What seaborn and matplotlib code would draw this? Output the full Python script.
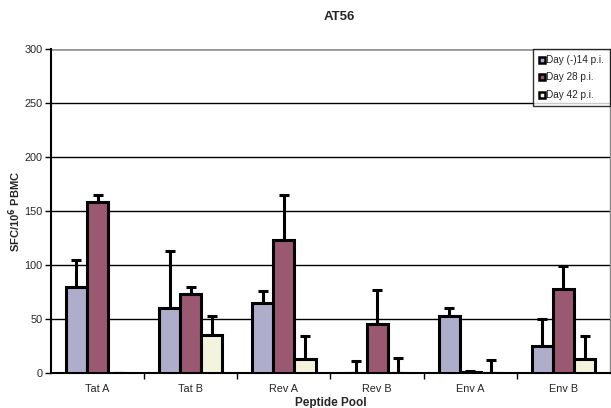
import matplotlib
matplotlib.use("Agg")
import matplotlib.pyplot as plt
import seaborn as sns
import pandas as pd
import numpy as np

pools = ["Tat A", "Tat B", "Rev A", "Rev B", "Env A", "Env B"]
days = ["Day (-)14 p.i.", "Day 28 p.i.", "Day 42 p.i."]
day_m14 = [80, 60, 65, 0, 53, 25]
day_28 = [158, 73, 123, 45, 1, 78]
day_42 = [0, 35, 13, 0, 0, 13]
err_m14 = [25, 53, 11, 11, 7, 25]
err_28 = [7, 7, 42, 32, 1, 21]
err_42 = [0, 18, 21, 14, 12, 21]
colors = ["#A9A9D1", "#A64D6E", "#F8F8D9"]

values = [day_m14, day_28, day_42]
errors = [err_m14, err_28, err_42]
df = pd.DataFrame({
    "pool": np.repeat([pools], 3, axis=0).ravel(),
    "day": np.repeat(days, len(pools)),
    "sfc": np.concatenate(values),
    "err": np.concatenate(errors),
})

sns.set_style("white")
plt.rcParams["font.family"] = ["Liberation Sans", "DejaVu Sans"]

fig = plt.figure(figsize=(6.11, 4.08), dpi=100)
ax = fig.add_axes([51 / 611, 1 - 373 / 408, 559 / 611, 324 / 408])

sns.barplot(data=df, x="pool", y="sfc", hue="day", order=pools, hue_order=days,
            palette=colors, width=0.68, edgecolor="black", linewidth=2.2,
            errorbar=None, legend=False, ax=ax, zorder=3)

# upper-only error bars placed on each bar
for container, day in zip(ax.containers, days):
    sub = df[df["day"] == day].set_index("pool").loc[pools]
    xs = [p.get_x() + p.get_width() / 2 for p in container.patches]
    ax.errorbar(xs, sub["sfc"], yerr=[np.zeros(len(pools)), sub["err"]],
                fmt="none", ecolor="black", elinewidth=2.2, capsize=3.5,
                capthick=2.2, zorder=2)

ax.set_ylim(0, 300)
ax.set_xlim(-0.5, len(pools) - 0.5)
ax.set_yticks(range(0, 301, 50))
for y in range(50, 300, 50):
    ax.axhline(y, color="black", linewidth=1.0, zorder=1)
ax.axhline(300, color="#999999", linewidth=2.0, zorder=1)

ax.spines["top"].set_visible(False)
ax.spines["right"].set_color("#888888")
ax.spines["right"].set_linewidth(1.0)
ax.spines["left"].set_color("black")
ax.spines["left"].set_linewidth(1.5)
ax.spines["bottom"].set_color("black")
ax.spines["bottom"].set_linewidth(1.5)

ax.set_xticks(range(len(pools)))
ax.set_xticklabels(pools, fontsize=7.8)
ax.tick_params(axis="x", length=0, pad=8)
ax.set_xticks(np.arange(0.5, len(pools) - 0.5, 1), minor=True)
ax.tick_params(axis="x", which="minor", length=4, width=1, color="black", direction="out", bottom=True)
ax.tick_params(axis="y", length=4, width=1, color="black", direction="out", left=True, labelsize=7.8, pad=2)

ax.set_xlabel("Peptide Pool", fontsize=8.5, fontweight="bold", labelpad=2)
ax.set_ylabel("SFC/10$^{\\mathbf{6}}$ PBMC", fontsize=8, fontweight="bold")
ax.yaxis.set_label_coords(-0.05, 0.5)
fig.text(339 / 611, 1 - 17 / 408, "AT56", fontsize=9.5, fontweight="bold",
         ha="center", va="center")

handles = [plt.Line2D([], [], marker="s", linestyle="none", markersize=5,
                      markerfacecolor=c, markeredgecolor="black", markeredgewidth=1.8)
           for c in colors]
leg = ax.legend(handles, days, loc="upper right", bbox_to_anchor=(1.0, 1.0),
                fontsize=7.2, frameon=True, fancybox=False, handlelength=0.6,
                handletextpad=0.1, borderpad=0.6, labelspacing=0.75, borderaxespad=0)
leg.get_frame().set_edgecolor("black")
leg.get_frame().set_linewidth(1.0)
leg.set_zorder(5)

fig.savefig("out.png", dpi=100)
